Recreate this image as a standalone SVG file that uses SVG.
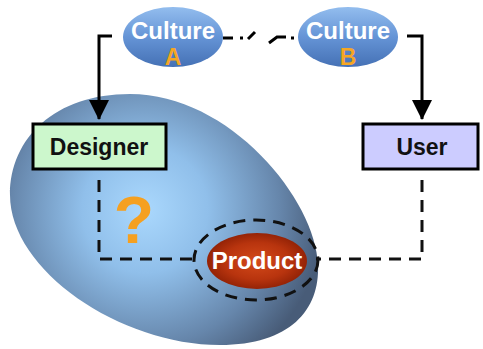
<svg xmlns="http://www.w3.org/2000/svg" width="483" height="349" viewBox="0 0 483 349">
<defs>
<radialGradient id="blobG" gradientUnits="userSpaceOnUse" cx="145" cy="210" r="180">
<stop offset="0" stop-color="#aad8fd"/>
<stop offset="0.35" stop-color="#90bfea"/>
<stop offset="0.75" stop-color="#6686ab"/>
<stop offset="1" stop-color="#485c78"/>
</radialGradient>
<linearGradient id="cultG" x1="0" y1="0" x2="0" y2="1">
<stop offset="0" stop-color="#93bdee"/>
<stop offset="0.5" stop-color="#6594d6"/>
<stop offset="1" stop-color="#4571b5"/>
</linearGradient>
<radialGradient id="prodG" cx="0.5" cy="0.5" r="0.55">
<stop offset="0" stop-color="#d44a1a"/>
<stop offset="0.6" stop-color="#b8340e"/>
<stop offset="1" stop-color="#8a1e04"/>
</radialGradient>
<marker id="arrow" viewBox="0 0 20 20" refX="19" refY="10" markerWidth="20" markerHeight="20" markerUnits="userSpaceOnUse" orient="auto">
<path d="M0,0 L20,10 L0,20 Z" fill="#000"/>
</marker>
</defs>
<style>
.solid{fill:none;stroke:#000;stroke-width:3}
.dash{fill:none;stroke:#111;stroke-width:3;stroke-dasharray:12 8}
.box{stroke:#000;stroke-width:3}
.lbl{font-family:"Liberation Sans",Arial,sans-serif;font-weight:bold;text-anchor:middle}
</style>
<rect width="483" height="349" fill="#ffffff"/>
<g id="blob">
<path d="M130,94 C55,94 10,138 10,195 C10,270 120,345 220,345 C290,345 320,310 318,265 C316,200 230,94 130,94 Z" fill="url(#blobG)"/>
</g>
<g id="connectors">
<path class="solid" d="M112,36 L99,36 L99,119" marker-end="url(#arrow)"/>
<path class="solid" d="M407,36 L422,36 L422,119" marker-end="url(#arrow)"/>
<path class="solid" d="M223,38 L233,38 M240,38 L243,38 M248,39 L255,32 M269,43 L277,37 L286,37 M291,38 L294,38"/>
<path class="dash" d="M99,180 L99,259 L193,259"/>
<path class="dash" d="M422,180 L422,259 L316,259"/>
</g>
<g id="cultureA">
<ellipse cx="173" cy="37" rx="50" ry="30" fill="url(#cultG)"/>
<text class="lbl" x="173" y="39" font-size="24" fill="#ffffff">Culture</text>
<text class="lbl" x="173" y="65" font-size="23" fill="#f5a623">A</text>
</g>
<g id="cultureB">
<ellipse cx="348" cy="37" rx="50" ry="30" fill="url(#cultG)"/>
<text class="lbl" x="348" y="39" font-size="24" fill="#ffffff">Culture</text>
<text class="lbl" x="348" y="65" font-size="23" fill="#f5a623">B</text>
</g>
<g id="designer">
<rect class="box" x="33" y="124" width="133" height="45" fill="#ccf7cc"/>
<text class="lbl" x="99" y="155" font-size="23" fill="#111">Designer</text>
</g>
<g id="user">
<rect class="box" x="363" y="124" width="115" height="45" fill="#ccccff"/>
<text class="lbl" x="422" y="155" font-size="23" fill="#111">User</text>
</g>
<g id="question">
<text class="lbl" x="134" y="243" font-size="66" fill="#f5a020">?</text>
</g>
<g id="product">
<ellipse cx="256" cy="260" rx="62" ry="40" class="dash"/>
<ellipse cx="257" cy="261" rx="50" ry="28" fill="url(#prodG)"/>
<text class="lbl" x="257" y="269" font-size="24" fill="#ffffff">Product</text>
</g>
</svg>
